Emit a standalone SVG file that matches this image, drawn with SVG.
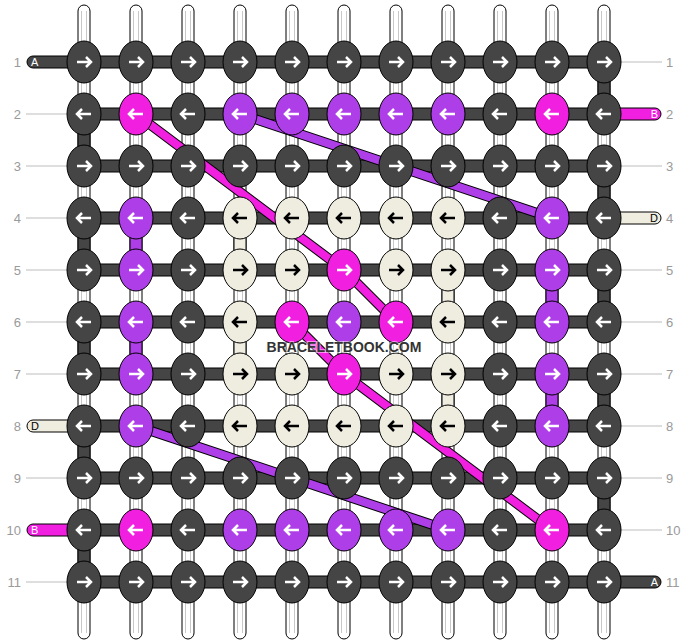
<svg xmlns="http://www.w3.org/2000/svg" xmlns:xlink="http://www.w3.org/1999/xlink" width="688" height="644" viewBox="0 0 688 644">
<style>
.tube{fill:#fff;stroke:#000;stroke-width:1}
.stripe{stroke:#c8c8c8;stroke-width:1;fill:none}
.seg{stroke:#000;stroke-width:1}
.D{fill:#454545}.P{fill:#f120e0}.V{fill:#ae3ee8}.B{fill:#efede0}
.bar{fill:#454545;stroke:#000;stroke-width:1}
ellipse{stroke:#000;stroke-width:1}
.aw{stroke:#fff;fill:none;stroke-width:2.5}
.ab{stroke:#000;fill:none;stroke-width:2.5}
.lbl{font-family:"Liberation Sans",Arial,sans-serif;font-size:13px;fill:#9a9a9a}
.tl{font-family:"Liberation Sans",Arial,sans-serif;font-size:11px}
.guide{stroke:#bdbdbd;stroke-width:1}
.dlo{stroke:#000;stroke-width:10;fill:none;stroke-linecap:butt}
.dlp{stroke:#f120e0;stroke-width:8;fill:none}
.dlv{stroke:#ae3ee8;stroke-width:8;fill:none}
.wm{font-family:"Liberation Sans",Arial,sans-serif;font-size:14px;font-weight:bold;fill:#333;stroke:#fff;stroke-width:2;stroke-opacity:0.5;paint-order:stroke}
</style>
<defs>
<path id="ar" d="M-7,0H7M2,-5L7,0L2,5"/>
<path id="al" d="M7,0H-7M-2,-5L-7,0L-2,5"/>
</defs>
<g id="labels">
<text class="lbl" x="21" y="67" text-anchor="end">1</text>
<text class="lbl" x="21" y="119" text-anchor="end">2</text>
<text class="lbl" x="21" y="171" text-anchor="end">3</text>
<text class="lbl" x="21" y="223" text-anchor="end">4</text>
<text class="lbl" x="21" y="275" text-anchor="end">5</text>
<text class="lbl" x="21" y="327" text-anchor="end">6</text>
<text class="lbl" x="21" y="379" text-anchor="end">7</text>
<text class="lbl" x="21" y="431" text-anchor="end">8</text>
<text class="lbl" x="21" y="483" text-anchor="end">9</text>
<text class="lbl" x="21" y="535" text-anchor="end">10</text>
<text class="lbl" x="21" y="587" text-anchor="end">11</text>
<text class="lbl" x="666" y="67">1</text>
<text class="lbl" x="666" y="119">2</text>
<text class="lbl" x="666" y="171">3</text>
<text class="lbl" x="666" y="223">4</text>
<text class="lbl" x="666" y="275">5</text>
<text class="lbl" x="666" y="327">6</text>
<text class="lbl" x="666" y="379">7</text>
<text class="lbl" x="666" y="431">8</text>
<text class="lbl" x="666" y="483">9</text>
<text class="lbl" x="666" y="535">10</text>
<text class="lbl" x="666" y="587">11</text>
<path class="guide" d="M26,114H67M26,166H67M26,218H67M26,270H67M26,322H67M26,374H67M26,478H67M26,582H67M621,62H662M621,166H662M621,270H662M621,322H662M621,374H662M621,426H662M621,478H662M621,530H662"/>
</g>
<g id="warps">
<rect class="tube" x="78" y="5" width="12" height="634" rx="6"/>
<rect class="tube" x="130" y="5" width="12" height="634" rx="6"/>
<rect class="tube" x="182" y="5" width="12" height="634" rx="6"/>
<rect class="tube" x="234" y="5" width="12" height="634" rx="6"/>
<rect class="tube" x="286" y="5" width="12" height="634" rx="6"/>
<rect class="tube" x="338" y="5" width="12" height="634" rx="6"/>
<rect class="tube" x="390" y="5" width="12" height="634" rx="6"/>
<rect class="tube" x="442" y="5" width="12" height="634" rx="6"/>
<rect class="tube" x="494" y="5" width="12" height="634" rx="6"/>
<rect class="tube" x="546" y="5" width="12" height="634" rx="6"/>
<rect class="tube" x="598" y="5" width="12" height="634" rx="6"/>
<path class="stripe" d="M81.5,11V633M86.5,11V633M133.5,11V633M138.5,11V633M185.5,11V633M190.5,11V633M237.5,11V633M242.5,11V633M289.5,11V633M294.5,11V633M341.5,11V633M346.5,11V633M393.5,11V633M398.5,11V633M445.5,11V633M450.5,11V633M497.5,11V633M502.5,11V633M549.5,11V633M554.5,11V633M601.5,11V633M606.5,11V633"/>
</g>
<g id="turns">
<rect class="seg D" x="78" y="130" width="12" height="20"/>
<rect class="seg D" x="78" y="234" width="12" height="20"/>
<rect class="seg D" x="78" y="338" width="12" height="20"/>
<rect class="seg D" x="78" y="442" width="12" height="20"/>
<rect class="seg D" x="78" y="546" width="12" height="20"/>
<rect class="seg D" x="598" y="78" width="12" height="20"/>
<rect class="seg D" x="598" y="182" width="12" height="20"/>
<rect class="seg D" x="598" y="286" width="12" height="20"/>
<rect class="seg D" x="598" y="390" width="12" height="20"/>
<rect class="seg D" x="598" y="494" width="12" height="20"/>
<rect class="seg V" x="130" y="234" width="12" height="20"/>
<rect class="seg V" x="130" y="338" width="12" height="20"/>
<rect class="seg V" x="546" y="286" width="12" height="20"/>
<rect class="seg V" x="546" y="390" width="12" height="20"/>
<rect class="seg B" x="234" y="234" width="12" height="20"/>
<rect class="seg B" x="234" y="338" width="12" height="20"/>
<rect class="seg B" x="442" y="286" width="12" height="20"/>
<rect class="seg B" x="442" y="390" width="12" height="20"/>
</g>
<g id="rows">
<rect class="bar" x="84" y="56" width="520" height="12"/>
<rect class="bar" x="84" y="108" width="520" height="12"/>
<rect class="bar" x="84" y="160" width="520" height="12"/>
<rect class="bar" x="84" y="212" width="520" height="12"/>
<rect class="bar" x="84" y="264" width="520" height="12"/>
<rect class="bar" x="84" y="316" width="520" height="12"/>
<rect class="bar" x="84" y="368" width="520" height="12"/>
<rect class="bar" x="84" y="420" width="520" height="12"/>
<rect class="bar" x="84" y="472" width="520" height="12"/>
<rect class="bar" x="84" y="524" width="520" height="12"/>
<rect class="bar" x="84" y="576" width="520" height="12"/>
</g>
<g id="tails">
<path class="seg D" d="M84,56H33A6,6 0 0 0 33,68H84Z"/>
<text class="tl" x="31" y="66" fill="#fff">A</text>
<path class="seg P" d="M604,108H655A6,6 0 0 1 655,120H604Z"/>
<text class="tl" x="658" y="118" fill="#fff" text-anchor="end">B</text>
<path class="seg B" d="M604,212H655A6,6 0 0 1 655,224H604Z"/>
<text class="tl" x="658" y="222" fill="#000" text-anchor="end">D</text>
<path class="seg B" d="M84,420H33A6,6 0 0 0 33,432H84Z"/>
<text class="tl" x="31" y="430" fill="#000">D</text>
<path class="seg P" d="M84,524H33A6,6 0 0 0 33,536H84Z"/>
<text class="tl" x="31" y="534" fill="#fff">B</text>
<path class="seg D" d="M604,576H655A6,6 0 0 1 655,588H604Z"/>
<text class="tl" x="658" y="586" fill="#fff" text-anchor="end">A</text>
</g>
<g id="connectors">
<path class="dlo" d="M136,114L344,270L396,322"/>
<path class="dlp" d="M136,114L344,270L396,322"/>
<path class="dlo" d="M292,322L344,374L552,530"/>
<path class="dlp" d="M292,322L344,374L552,530"/>
<path class="dlo" d="M240,114L552,218"/>
<path class="dlv" d="M240,114L552,218"/>
<path class="dlo" d="M136,426L448,530"/>
<path class="dlv" d="M136,426L448,530"/>
</g>
<g id="knots">
<g id="k1-1"><ellipse class="D" cx="84" cy="62" rx="17" ry="21"/><use href="#ar" x="84" y="62" class="aw"/></g>
<g id="k1-2"><ellipse class="D" cx="136" cy="62" rx="17" ry="21"/><use href="#ar" x="136" y="62" class="aw"/></g>
<g id="k1-3"><ellipse class="D" cx="188" cy="62" rx="17" ry="21"/><use href="#ar" x="188" y="62" class="aw"/></g>
<g id="k1-4"><ellipse class="D" cx="240" cy="62" rx="17" ry="21"/><use href="#ar" x="240" y="62" class="aw"/></g>
<g id="k1-5"><ellipse class="D" cx="292" cy="62" rx="17" ry="21"/><use href="#ar" x="292" y="62" class="aw"/></g>
<g id="k1-6"><ellipse class="D" cx="344" cy="62" rx="17" ry="21"/><use href="#ar" x="344" y="62" class="aw"/></g>
<g id="k1-7"><ellipse class="D" cx="396" cy="62" rx="17" ry="21"/><use href="#ar" x="396" y="62" class="aw"/></g>
<g id="k1-8"><ellipse class="D" cx="448" cy="62" rx="17" ry="21"/><use href="#ar" x="448" y="62" class="aw"/></g>
<g id="k1-9"><ellipse class="D" cx="500" cy="62" rx="17" ry="21"/><use href="#ar" x="500" y="62" class="aw"/></g>
<g id="k1-10"><ellipse class="D" cx="552" cy="62" rx="17" ry="21"/><use href="#ar" x="552" y="62" class="aw"/></g>
<g id="k1-11"><ellipse class="D" cx="604" cy="62" rx="17" ry="21"/><use href="#ar" x="604" y="62" class="aw"/></g>

<g id="k2-1"><ellipse class="D" cx="84" cy="114" rx="17" ry="21"/><use href="#al" x="84" y="114" class="aw"/></g>
<g id="k2-2"><ellipse class="P" cx="136" cy="114" rx="17" ry="21"/><use href="#al" x="136" y="114" class="aw"/></g>
<g id="k2-3"><ellipse class="D" cx="188" cy="114" rx="17" ry="21"/><use href="#al" x="188" y="114" class="aw"/></g>
<g id="k2-4"><ellipse class="V" cx="240" cy="114" rx="17" ry="21"/><use href="#al" x="240" y="114" class="aw"/></g>
<g id="k2-5"><ellipse class="V" cx="292" cy="114" rx="17" ry="21"/><use href="#al" x="292" y="114" class="aw"/></g>
<g id="k2-6"><ellipse class="V" cx="344" cy="114" rx="17" ry="21"/><use href="#al" x="344" y="114" class="aw"/></g>
<g id="k2-7"><ellipse class="V" cx="396" cy="114" rx="17" ry="21"/><use href="#al" x="396" y="114" class="aw"/></g>
<g id="k2-8"><ellipse class="V" cx="448" cy="114" rx="17" ry="21"/><use href="#al" x="448" y="114" class="aw"/></g>
<g id="k2-9"><ellipse class="D" cx="500" cy="114" rx="17" ry="21"/><use href="#al" x="500" y="114" class="aw"/></g>
<g id="k2-10"><ellipse class="P" cx="552" cy="114" rx="17" ry="21"/><use href="#al" x="552" y="114" class="aw"/></g>
<g id="k2-11"><ellipse class="D" cx="604" cy="114" rx="17" ry="21"/><use href="#al" x="604" y="114" class="aw"/></g>

<g id="k3-1"><ellipse class="D" cx="84" cy="166" rx="17" ry="21"/><use href="#ar" x="84" y="166" class="aw"/></g>
<g id="k3-2"><ellipse class="D" cx="136" cy="166" rx="17" ry="21"/><use href="#ar" x="136" y="166" class="aw"/></g>
<g id="k3-3"><ellipse class="D" cx="188" cy="166" rx="17" ry="21"/><use href="#ar" x="188" y="166" class="aw"/></g>
<g id="k3-4"><ellipse class="D" cx="240" cy="166" rx="17" ry="21"/><use href="#ar" x="240" y="166" class="aw"/></g>
<g id="k3-5"><ellipse class="D" cx="292" cy="166" rx="17" ry="21"/><use href="#ar" x="292" y="166" class="aw"/></g>
<g id="k3-6"><ellipse class="D" cx="344" cy="166" rx="17" ry="21"/><use href="#ar" x="344" y="166" class="aw"/></g>
<g id="k3-7"><ellipse class="D" cx="396" cy="166" rx="17" ry="21"/><use href="#ar" x="396" y="166" class="aw"/></g>
<g id="k3-8"><ellipse class="D" cx="448" cy="166" rx="17" ry="21"/><use href="#ar" x="448" y="166" class="aw"/></g>
<g id="k3-9"><ellipse class="D" cx="500" cy="166" rx="17" ry="21"/><use href="#ar" x="500" y="166" class="aw"/></g>
<g id="k3-10"><ellipse class="D" cx="552" cy="166" rx="17" ry="21"/><use href="#ar" x="552" y="166" class="aw"/></g>
<g id="k3-11"><ellipse class="D" cx="604" cy="166" rx="17" ry="21"/><use href="#ar" x="604" y="166" class="aw"/></g>

<g id="k4-1"><ellipse class="D" cx="84" cy="218" rx="17" ry="21"/><use href="#al" x="84" y="218" class="aw"/></g>
<g id="k4-2"><ellipse class="V" cx="136" cy="218" rx="17" ry="21"/><use href="#al" x="136" y="218" class="aw"/></g>
<g id="k4-3"><ellipse class="D" cx="188" cy="218" rx="17" ry="21"/><use href="#al" x="188" y="218" class="aw"/></g>
<g id="k4-4"><ellipse class="B" cx="240" cy="218" rx="17" ry="21"/><use href="#al" x="240" y="218" class="ab"/></g>
<g id="k4-5"><ellipse class="B" cx="292" cy="218" rx="17" ry="21"/><use href="#al" x="292" y="218" class="ab"/></g>
<g id="k4-6"><ellipse class="B" cx="344" cy="218" rx="17" ry="21"/><use href="#al" x="344" y="218" class="ab"/></g>
<g id="k4-7"><ellipse class="B" cx="396" cy="218" rx="17" ry="21"/><use href="#al" x="396" y="218" class="ab"/></g>
<g id="k4-8"><ellipse class="B" cx="448" cy="218" rx="17" ry="21"/><use href="#al" x="448" y="218" class="ab"/></g>
<g id="k4-9"><ellipse class="D" cx="500" cy="218" rx="17" ry="21"/><use href="#al" x="500" y="218" class="aw"/></g>
<g id="k4-10"><ellipse class="V" cx="552" cy="218" rx="17" ry="21"/><use href="#al" x="552" y="218" class="aw"/></g>
<g id="k4-11"><ellipse class="D" cx="604" cy="218" rx="17" ry="21"/><use href="#al" x="604" y="218" class="aw"/></g>

<g id="k5-1"><ellipse class="D" cx="84" cy="270" rx="17" ry="21"/><use href="#ar" x="84" y="270" class="aw"/></g>
<g id="k5-2"><ellipse class="V" cx="136" cy="270" rx="17" ry="21"/><use href="#ar" x="136" y="270" class="aw"/></g>
<g id="k5-3"><ellipse class="D" cx="188" cy="270" rx="17" ry="21"/><use href="#ar" x="188" y="270" class="aw"/></g>
<g id="k5-4"><ellipse class="B" cx="240" cy="270" rx="17" ry="21"/><use href="#ar" x="240" y="270" class="ab"/></g>
<g id="k5-5"><ellipse class="B" cx="292" cy="270" rx="17" ry="21"/><use href="#ar" x="292" y="270" class="ab"/></g>
<g id="k5-6"><ellipse class="P" cx="344" cy="270" rx="17" ry="21"/><use href="#ar" x="344" y="270" class="aw"/></g>
<g id="k5-7"><ellipse class="B" cx="396" cy="270" rx="17" ry="21"/><use href="#ar" x="396" y="270" class="ab"/></g>
<g id="k5-8"><ellipse class="B" cx="448" cy="270" rx="17" ry="21"/><use href="#ar" x="448" y="270" class="ab"/></g>
<g id="k5-9"><ellipse class="D" cx="500" cy="270" rx="17" ry="21"/><use href="#ar" x="500" y="270" class="aw"/></g>
<g id="k5-10"><ellipse class="V" cx="552" cy="270" rx="17" ry="21"/><use href="#ar" x="552" y="270" class="aw"/></g>
<g id="k5-11"><ellipse class="D" cx="604" cy="270" rx="17" ry="21"/><use href="#ar" x="604" y="270" class="aw"/></g>

<g id="k6-1"><ellipse class="D" cx="84" cy="322" rx="17" ry="21"/><use href="#al" x="84" y="322" class="aw"/></g>
<g id="k6-2"><ellipse class="V" cx="136" cy="322" rx="17" ry="21"/><use href="#al" x="136" y="322" class="aw"/></g>
<g id="k6-3"><ellipse class="D" cx="188" cy="322" rx="17" ry="21"/><use href="#al" x="188" y="322" class="aw"/></g>
<g id="k6-4"><ellipse class="B" cx="240" cy="322" rx="17" ry="21"/><use href="#al" x="240" y="322" class="ab"/></g>
<g id="k6-5"><ellipse class="P" cx="292" cy="322" rx="17" ry="21"/><use href="#al" x="292" y="322" class="aw"/></g>
<g id="k6-6"><ellipse class="V" cx="344" cy="322" rx="17" ry="21"/><use href="#al" x="344" y="322" class="aw"/></g>
<g id="k6-7"><ellipse class="P" cx="396" cy="322" rx="17" ry="21"/><use href="#al" x="396" y="322" class="aw"/></g>
<g id="k6-8"><ellipse class="B" cx="448" cy="322" rx="17" ry="21"/><use href="#al" x="448" y="322" class="ab"/></g>
<g id="k6-9"><ellipse class="D" cx="500" cy="322" rx="17" ry="21"/><use href="#al" x="500" y="322" class="aw"/></g>
<g id="k6-10"><ellipse class="V" cx="552" cy="322" rx="17" ry="21"/><use href="#al" x="552" y="322" class="aw"/></g>
<g id="k6-11"><ellipse class="D" cx="604" cy="322" rx="17" ry="21"/><use href="#al" x="604" y="322" class="aw"/></g>

<g id="k7-1"><ellipse class="D" cx="84" cy="374" rx="17" ry="21"/><use href="#ar" x="84" y="374" class="aw"/></g>
<g id="k7-2"><ellipse class="V" cx="136" cy="374" rx="17" ry="21"/><use href="#ar" x="136" y="374" class="aw"/></g>
<g id="k7-3"><ellipse class="D" cx="188" cy="374" rx="17" ry="21"/><use href="#ar" x="188" y="374" class="aw"/></g>
<g id="k7-4"><ellipse class="B" cx="240" cy="374" rx="17" ry="21"/><use href="#ar" x="240" y="374" class="ab"/></g>
<g id="k7-5"><ellipse class="B" cx="292" cy="374" rx="17" ry="21"/><use href="#ar" x="292" y="374" class="ab"/></g>
<g id="k7-6"><ellipse class="P" cx="344" cy="374" rx="17" ry="21"/><use href="#ar" x="344" y="374" class="aw"/></g>
<g id="k7-7"><ellipse class="B" cx="396" cy="374" rx="17" ry="21"/><use href="#ar" x="396" y="374" class="ab"/></g>
<g id="k7-8"><ellipse class="B" cx="448" cy="374" rx="17" ry="21"/><use href="#ar" x="448" y="374" class="ab"/></g>
<g id="k7-9"><ellipse class="D" cx="500" cy="374" rx="17" ry="21"/><use href="#ar" x="500" y="374" class="aw"/></g>
<g id="k7-10"><ellipse class="V" cx="552" cy="374" rx="17" ry="21"/><use href="#ar" x="552" y="374" class="aw"/></g>
<g id="k7-11"><ellipse class="D" cx="604" cy="374" rx="17" ry="21"/><use href="#ar" x="604" y="374" class="aw"/></g>

<g id="k8-1"><ellipse class="D" cx="84" cy="426" rx="17" ry="21"/><use href="#al" x="84" y="426" class="aw"/></g>
<g id="k8-2"><ellipse class="V" cx="136" cy="426" rx="17" ry="21"/><use href="#al" x="136" y="426" class="aw"/></g>
<g id="k8-3"><ellipse class="D" cx="188" cy="426" rx="17" ry="21"/><use href="#al" x="188" y="426" class="aw"/></g>
<g id="k8-4"><ellipse class="B" cx="240" cy="426" rx="17" ry="21"/><use href="#al" x="240" y="426" class="ab"/></g>
<g id="k8-5"><ellipse class="B" cx="292" cy="426" rx="17" ry="21"/><use href="#al" x="292" y="426" class="ab"/></g>
<g id="k8-6"><ellipse class="B" cx="344" cy="426" rx="17" ry="21"/><use href="#al" x="344" y="426" class="ab"/></g>
<g id="k8-7"><ellipse class="B" cx="396" cy="426" rx="17" ry="21"/><use href="#al" x="396" y="426" class="ab"/></g>
<g id="k8-8"><ellipse class="B" cx="448" cy="426" rx="17" ry="21"/><use href="#al" x="448" y="426" class="ab"/></g>
<g id="k8-9"><ellipse class="D" cx="500" cy="426" rx="17" ry="21"/><use href="#al" x="500" y="426" class="aw"/></g>
<g id="k8-10"><ellipse class="V" cx="552" cy="426" rx="17" ry="21"/><use href="#al" x="552" y="426" class="aw"/></g>
<g id="k8-11"><ellipse class="D" cx="604" cy="426" rx="17" ry="21"/><use href="#al" x="604" y="426" class="aw"/></g>

<g id="k9-1"><ellipse class="D" cx="84" cy="478" rx="17" ry="21"/><use href="#ar" x="84" y="478" class="aw"/></g>
<g id="k9-2"><ellipse class="D" cx="136" cy="478" rx="17" ry="21"/><use href="#ar" x="136" y="478" class="aw"/></g>
<g id="k9-3"><ellipse class="D" cx="188" cy="478" rx="17" ry="21"/><use href="#ar" x="188" y="478" class="aw"/></g>
<g id="k9-4"><ellipse class="D" cx="240" cy="478" rx="17" ry="21"/><use href="#ar" x="240" y="478" class="aw"/></g>
<g id="k9-5"><ellipse class="D" cx="292" cy="478" rx="17" ry="21"/><use href="#ar" x="292" y="478" class="aw"/></g>
<g id="k9-6"><ellipse class="D" cx="344" cy="478" rx="17" ry="21"/><use href="#ar" x="344" y="478" class="aw"/></g>
<g id="k9-7"><ellipse class="D" cx="396" cy="478" rx="17" ry="21"/><use href="#ar" x="396" y="478" class="aw"/></g>
<g id="k9-8"><ellipse class="D" cx="448" cy="478" rx="17" ry="21"/><use href="#ar" x="448" y="478" class="aw"/></g>
<g id="k9-9"><ellipse class="D" cx="500" cy="478" rx="17" ry="21"/><use href="#ar" x="500" y="478" class="aw"/></g>
<g id="k9-10"><ellipse class="D" cx="552" cy="478" rx="17" ry="21"/><use href="#ar" x="552" y="478" class="aw"/></g>
<g id="k9-11"><ellipse class="D" cx="604" cy="478" rx="17" ry="21"/><use href="#ar" x="604" y="478" class="aw"/></g>

<g id="k10-1"><ellipse class="D" cx="84" cy="530" rx="17" ry="21"/><use href="#al" x="84" y="530" class="aw"/></g>
<g id="k10-2"><ellipse class="P" cx="136" cy="530" rx="17" ry="21"/><use href="#al" x="136" y="530" class="aw"/></g>
<g id="k10-3"><ellipse class="D" cx="188" cy="530" rx="17" ry="21"/><use href="#al" x="188" y="530" class="aw"/></g>
<g id="k10-4"><ellipse class="V" cx="240" cy="530" rx="17" ry="21"/><use href="#al" x="240" y="530" class="aw"/></g>
<g id="k10-5"><ellipse class="V" cx="292" cy="530" rx="17" ry="21"/><use href="#al" x="292" y="530" class="aw"/></g>
<g id="k10-6"><ellipse class="V" cx="344" cy="530" rx="17" ry="21"/><use href="#al" x="344" y="530" class="aw"/></g>
<g id="k10-7"><ellipse class="V" cx="396" cy="530" rx="17" ry="21"/><use href="#al" x="396" y="530" class="aw"/></g>
<g id="k10-8"><ellipse class="V" cx="448" cy="530" rx="17" ry="21"/><use href="#al" x="448" y="530" class="aw"/></g>
<g id="k10-9"><ellipse class="D" cx="500" cy="530" rx="17" ry="21"/><use href="#al" x="500" y="530" class="aw"/></g>
<g id="k10-10"><ellipse class="P" cx="552" cy="530" rx="17" ry="21"/><use href="#al" x="552" y="530" class="aw"/></g>
<g id="k10-11"><ellipse class="D" cx="604" cy="530" rx="17" ry="21"/><use href="#al" x="604" y="530" class="aw"/></g>

<g id="k11-1"><ellipse class="D" cx="84" cy="582" rx="17" ry="21"/><use href="#ar" x="84" y="582" class="aw"/></g>
<g id="k11-2"><ellipse class="D" cx="136" cy="582" rx="17" ry="21"/><use href="#ar" x="136" y="582" class="aw"/></g>
<g id="k11-3"><ellipse class="D" cx="188" cy="582" rx="17" ry="21"/><use href="#ar" x="188" y="582" class="aw"/></g>
<g id="k11-4"><ellipse class="D" cx="240" cy="582" rx="17" ry="21"/><use href="#ar" x="240" y="582" class="aw"/></g>
<g id="k11-5"><ellipse class="D" cx="292" cy="582" rx="17" ry="21"/><use href="#ar" x="292" y="582" class="aw"/></g>
<g id="k11-6"><ellipse class="D" cx="344" cy="582" rx="17" ry="21"/><use href="#ar" x="344" y="582" class="aw"/></g>
<g id="k11-7"><ellipse class="D" cx="396" cy="582" rx="17" ry="21"/><use href="#ar" x="396" y="582" class="aw"/></g>
<g id="k11-8"><ellipse class="D" cx="448" cy="582" rx="17" ry="21"/><use href="#ar" x="448" y="582" class="aw"/></g>
<g id="k11-9"><ellipse class="D" cx="500" cy="582" rx="17" ry="21"/><use href="#ar" x="500" y="582" class="aw"/></g>
<g id="k11-10"><ellipse class="D" cx="552" cy="582" rx="17" ry="21"/><use href="#ar" x="552" y="582" class="aw"/></g>
<g id="k11-11"><ellipse class="D" cx="604" cy="582" rx="17" ry="21"/><use href="#ar" x="604" y="582" class="aw"/></g>
</g>
<text class="wm" x="344" y="352" text-anchor="middle">BRACELETBOOK.COM</text>
</svg>
